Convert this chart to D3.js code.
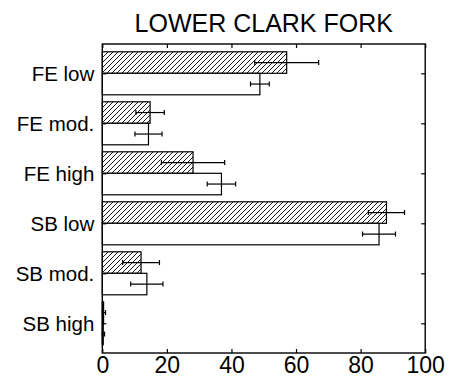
<!DOCTYPE html>
<html><head><meta charset="utf-8">
<script src="https://cdn.jsdelivr.net/npm/d3@7"></script>
<style>body{margin:0;background:#fff}svg{display:block}text{font-family:"Liberation Sans",Arial,sans-serif;fill:#000}</style>
</head><body><svg id="c" width="453" height="381"></svg>
<script>
const title = "LOWER CLARK FORK";
const categories = ["FE low","FE mod.","FE high","SB low","SB mod.","SB high"];
const hatchedValues = [57.1, 14.8, 28.1, 88.0, 12.0, 0.4];
const hatchedErrors = [9.9, 4.4, 9.8, 5.6, 5.7, 0.6];
const openValues = [48.8, 14.3, 36.9, 85.7, 13.8, 0.3];
const openErrors = [2.9, 4.2, 4.4, 5.1, 5.0, 0.4];
const xTicks = [0, 20, 40, 60, 80, 100];

const svg = d3.select("#c");
const L = 102.3, R = 425.2, T = 44, B = 353;
const x = d3.scaleLinear().domain([0, 100]).range([L, R]);
const y = d3.scaleLinear().domain([-0.586, categories.length - 1 + 0.594]).range([T, B]);
const bh = 21.5;

const defs = svg.append("defs");
const pat = defs.append("pattern").attr("id","hatch").attr("patternUnits","userSpaceOnUse")
  .attr("width",5).attr("height",5);
pat.append("rect").attr("width",5).attr("height",5).attr("fill","#fff");
pat.append("path").attr("d","M-1,1 L1,-1 M0,5 L5,0 M4,6 L6,4").attr("stroke","#000").attr("stroke-width",0.9);

svg.append("text").attr("x",(L+R)/2).attr("y",31.5).attr("text-anchor","middle")
  .attr("font-size",25).text(title);

const g = svg.append("g");
categories.forEach((c,i)=>{
  const cy = y(i);
  g.append("rect").attr("x",x(0)).attr("y",cy-bh).attr("width",x(hatchedValues[i])-x(0)).attr("height",bh)
    .attr("fill","url(#hatch)").attr("stroke","#000").attr("stroke-width",1.2);
  g.append("rect").attr("x",x(0)).attr("y",cy).attr("width",x(openValues[i])-x(0)).attr("height",bh)
    .attr("fill","#fff").attr("stroke","#000").attr("stroke-width",1.2);
});
function errBar(v,e,yy){
  const x1 = x(Math.max(0,v-e)), x2 = x(v+e);
  g.append("line").attr("x1",x1).attr("x2",x2).attr("y1",yy).attr("y2",yy).attr("stroke","#000").attr("stroke-width",1.2);
  [x1,x2].forEach(xx=>g.append("line").attr("x1",xx).attr("x2",xx).attr("y1",yy-2.5).attr("y2",yy+2.5).attr("stroke","#000").attr("stroke-width",1.2));
}
categories.forEach((c,i)=>{
  errBar(hatchedValues[i], hatchedErrors[i], y(i)-bh/2);
  errBar(openValues[i], openErrors[i], y(i)+bh/2);
});

// frame
svg.append("rect").attr("x",L).attr("y",T).attr("width",R-L).attr("height",B-T)
  .attr("fill","none").attr("stroke","#000").attr("stroke-width",1.4);

// axes with inward ticks
const xb = svg.append("g").attr("transform",`translate(0,${B})`)
  .call(d3.axisBottom(x).tickValues(xTicks).tickSize(-4).tickPadding(4).tickSizeOuter(0));
xb.select(".domain").remove();
xb.selectAll("text").attr("font-size",23).attr("dy","0.71em").attr("font-family",'"Liberation Sans",Arial,sans-serif');
xb.selectAll("line").attr("stroke-width",1.2);
const xt = svg.append("g").attr("transform",`translate(0,${T})`)
  .call(d3.axisTop(x).tickValues(xTicks).tickSize(-4).tickFormat("").tickSizeOuter(0));
xt.select(".domain").remove();
xt.selectAll("line").attr("stroke-width",1.2);

const yl = svg.append("g").attr("transform",`translate(${L},0)`)
  .call(d3.axisLeft(y).tickValues(d3.range(categories.length)).tickFormat(i=>categories[i]).tickSize(-4).tickPadding(8).tickSizeOuter(0));
yl.select(".domain").remove();
yl.selectAll("text").attr("font-size",20.5).attr("dy","0.36em").attr("font-family",'"Liberation Sans",Arial,sans-serif');
yl.selectAll("line").attr("stroke-width",1.2);
const yr = svg.append("g").attr("transform",`translate(${R},0)`)
  .call(d3.axisRight(y).tickValues(d3.range(categories.length)).tickFormat("").tickSize(-4).tickSizeOuter(0));
yr.select(".domain").remove();
yr.selectAll("line").attr("stroke-width",1.2);
</script></body></html>
